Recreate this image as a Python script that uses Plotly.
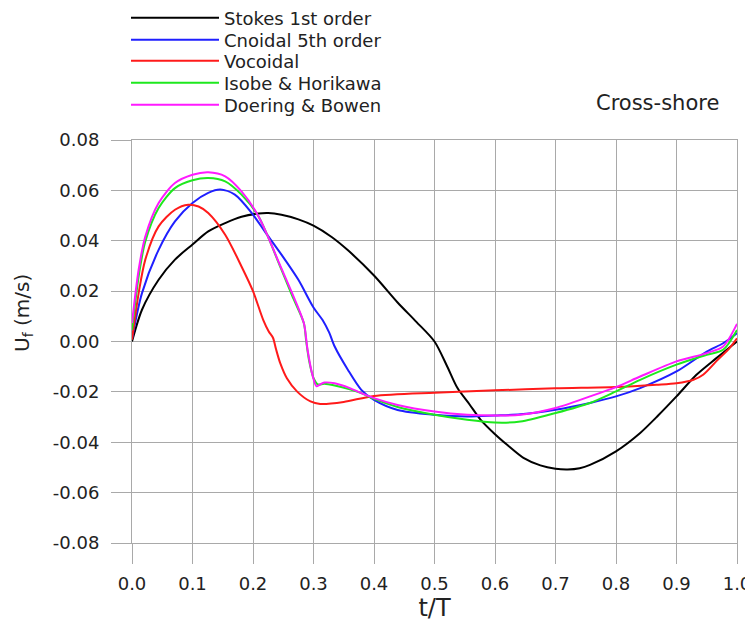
import plotly.graph_objects as go

# ---------------- data ----------------
stokes_t = [0, 0.0165, 0.044, 0.071, 0.1, 0.126, 0.154, 0.181, 0.209, 0.225, 0.247, 0.275,
            0.3, 0.33, 0.357, 0.4, 0.439, 0.47, 0.5, 0.521, 0.538, 0.558, 0.576, 0.6, 0.62,
            0.647, 0.675, 0.7, 0.72, 0.74, 0.757, 0.8, 0.84, 0.87, 0.9, 0.933, 0.966, 1.0]
stokes_u = [0, 0.0126, 0.0245, 0.0325, 0.0385, 0.0437, 0.047, 0.0495, 0.0508, 0.051, 0.0503, 0.0485,
            0.046, 0.0415, 0.0362, 0.0262, 0.0155, 0.0078, 0.0, -0.0099, -0.0185, -0.025, -0.031, -0.0368, -0.041,
            -0.0462, -0.0492, -0.0505, -0.0508, -0.0503, -0.049, -0.0436, -0.0363, -0.0293, -0.0218, -0.0132, -0.0066, 0.0]

cnoidal_t = [0, 0.0165, 0.044, 0.071, 0.1, 0.126, 0.146, 0.17, 0.198, 0.22, 0.247, 0.275, 0.3,
             0.315, 0.326, 0.335, 0.357, 0.379, 0.4, 0.439, 0.5, 0.554, 0.6, 0.642, 0.7, 0.757,
             0.8, 0.84, 0.9, 0.95, 0.977, 1.0]
cnoidal_u = [0.001, 0.0192, 0.0364, 0.0477, 0.055, 0.059, 0.0603, 0.0583, 0.051, 0.0435, 0.0345, 0.0245, 0.0135,
             0.0085, 0.0035, -0.002, -0.0113, -0.0192, -0.0232, -0.0272, -0.0291, -0.0298, -0.0294, -0.0289, -0.0271, -0.0244,
             -0.0218, -0.0185, -0.0119, -0.004, -0.0007, 0.0033]

vocoidal_t = [0, 0.011, 0.022, 0.044, 0.071, 0.093, 0.11, 0.126, 0.154, 0.181, 0.2, 0.217, 0.226,
              0.233, 0.238, 0.245, 0.256, 0.273, 0.295, 0.311, 0.35, 0.4, 0.5, 0.6, 0.7, 0.8,
              0.867, 0.9, 0.928, 0.944, 0.966, 0.988, 1.0]
vocoidal_u = [0.0007, 0.0192, 0.0325, 0.0457, 0.0523, 0.0543, 0.0536, 0.051, 0.0424, 0.0298, 0.020, 0.0085, 0.004,
              0.0015, -0.003, -0.0086, -0.0146, -0.0199, -0.0238, -0.0248, -0.0240, -0.0216, -0.0203, -0.0194, -0.0186, -0.0181,
              -0.0172, -0.0166, -0.0152, -0.0132, -0.0078, -0.0025, 0.0013]

isobe_t = [0, 0.011, 0.022, 0.044, 0.071, 0.1, 0.126, 0.154, 0.181, 0.209, 0.247, 0.265, 0.284,
           0.288, 0.293, 0.3, 0.307, 0.318, 0.335, 0.36, 0.379, 0.4, 0.439, 0.5, 0.554, 0.6, 0.642,
           0.7, 0.757, 0.8, 0.84, 0.9, 0.95, 0.977, 1.0]
isobe_u = [0.0046, 0.0258, 0.0397, 0.053, 0.0609, 0.064, 0.0649, 0.0636, 0.0583, 0.0497, 0.0285, 0.018, 0.0073,
           0.0, -0.008, -0.0145, -0.017, -0.0168, -0.0175, -0.019, -0.0205, -0.0228, -0.026, -0.0291, -0.0311, -0.0322, -0.0318,
           -0.0284, -0.0244, -0.0198, -0.0152, -0.0092, -0.0053, -0.0033, 0.0046]

doering_t = [0, 0.011, 0.022, 0.044, 0.071, 0.1, 0.126, 0.154, 0.181, 0.209, 0.247, 0.265, 0.284,
             0.29, 0.298, 0.305, 0.31, 0.318, 0.335, 0.36, 0.379, 0.4, 0.439, 0.5, 0.554, 0.6, 0.642,
             0.7, 0.757, 0.8, 0.84, 0.9, 0.95, 0.977, 1.0]
doering_u = [0.0073, 0.0285, 0.0417, 0.055, 0.0629, 0.0662, 0.0672, 0.0656, 0.0596, 0.0497, 0.029, 0.019, 0.0073,
             -0.003, -0.013, -0.0178, -0.0172, -0.0163, -0.0166, -0.0185, -0.0205, -0.0225, -0.0252, -0.0278, -0.0291, -0.0294, -0.0291,
             -0.0264, -0.0218, -0.0181, -0.0139, -0.0079, -0.0046, -0.002, 0.007]

series_names = ["Stokes 1st order", "Cnoidal 5th order", "Vocoidal", "Isobe & Horikawa", "Doering & Bowen"]
series_colors = ["#000000", "#1f1fff", "#ff1a1a", "#1ee81e", "#ff1aff"]
series_t = [stokes_t, cnoidal_t, vocoidal_t, isobe_t, doering_t]
series_u = [stokes_u, cnoidal_u, vocoidal_u, isobe_u, doering_u]

x_ticks = [0.0, 0.1, 0.2, 0.3, 0.4, 0.5, 0.6, 0.7, 0.8, 0.9, 1.0]
y_ticks = [-0.08, -0.06, -0.04, -0.02, 0.0, 0.02, 0.04, 0.06, 0.08]

FONT = "DejaVu Sans"
GRID = "#a9a9a9"
TXT = "#222222"

# figure is drawn at an 8px page offset, so size is reduced accordingly
W, H = 745, 628
ML, MR, MT, MB = 124, 16, 132, 93
PW, PH = W - ML - MR, H - MT - MB

legend_rows_px = [10, 32, 53, 75, 97]  # vertical centres of legend rows (figure px)

fig = go.Figure()
layout_legends = {}
for i, (name, color, t, u) in enumerate(zip(series_names, series_colors, series_t, series_u)):
    key = "legend" if i == 0 else f"legend{i + 1}"
    fig.add_trace(go.Scatter(x=t, y=u, mode="lines", name=name, legend=key,
                             line=dict(color=color, width=2, shape="spline", smoothing=0.8)))
    layout_legends[key] = dict(
        x=(118 - ML) / PW, xref="paper", xanchor="left",
        y=1 - legend_rows_px[i] / H, yref="container", yanchor="middle",
        itemwidth=88, bgcolor="rgba(0,0,0,0)", borderwidth=0,
        font=dict(family=FONT, size=18, color=TXT))

fig.update_layout(
    width=W, height=H,
    margin=dict(l=ML, r=MR, t=MT, b=MB, autoexpand=False),
    paper_bgcolor="white", plot_bgcolor="white",
    font=dict(family=FONT, color=TXT, size=18),
    showlegend=True,
    xaxis=dict(range=[0, 1], tickvals=x_ticks, ticktext=[f"{v:.1f}" for v in x_ticks],
               showgrid=True, gridcolor=GRID, gridwidth=1, zeroline=False,
               showline=True, linecolor=GRID, linewidth=1, mirror=True,
               ticks="outside", ticklen=20, tickcolor=GRID, tickwidth=1,
               ticklabelstandoff=4,
               tickfont=dict(family=FONT, size=18, color=TXT),
               title=dict(text="t/T", font=dict(family=FONT, size=24, color=TXT), standoff=0)),
    yaxis=dict(range=[-0.08, 0.08], tickvals=y_ticks, ticktext=[f"{v:.2f}" for v in y_ticks],
               showgrid=True, gridcolor=GRID, gridwidth=1, zeroline=False,
               showline=True, linecolor=GRID, linewidth=1, mirror=True,
               ticks="outside", ticklen=20, tickcolor=GRID, tickwidth=1,
               ticklabelstandoff=8,
               tickfont=dict(family=FONT, size=18, color=TXT)),
    annotations=[
        dict(text="U<sub>f</sub> (m/s)", x=(15 - ML) / PW, y=(PH + MT - 305) / PH,
             xref="paper", yref="paper", textangle=-90, showarrow=False,
             xanchor="center", yanchor="middle",
             font=dict(family=FONT, size=20, color=TXT)),
        dict(text="Cross-shore", x=(649 - ML) / PW, y=(PH + MT - 95) / PH,
             xref="paper", yref="paper", showarrow=False,
             xanchor="center", yanchor="middle",
             font=dict(family=FONT, size=21, color=TXT)),
    ],
    **layout_legends,
)

fig.write_html("out.html")
